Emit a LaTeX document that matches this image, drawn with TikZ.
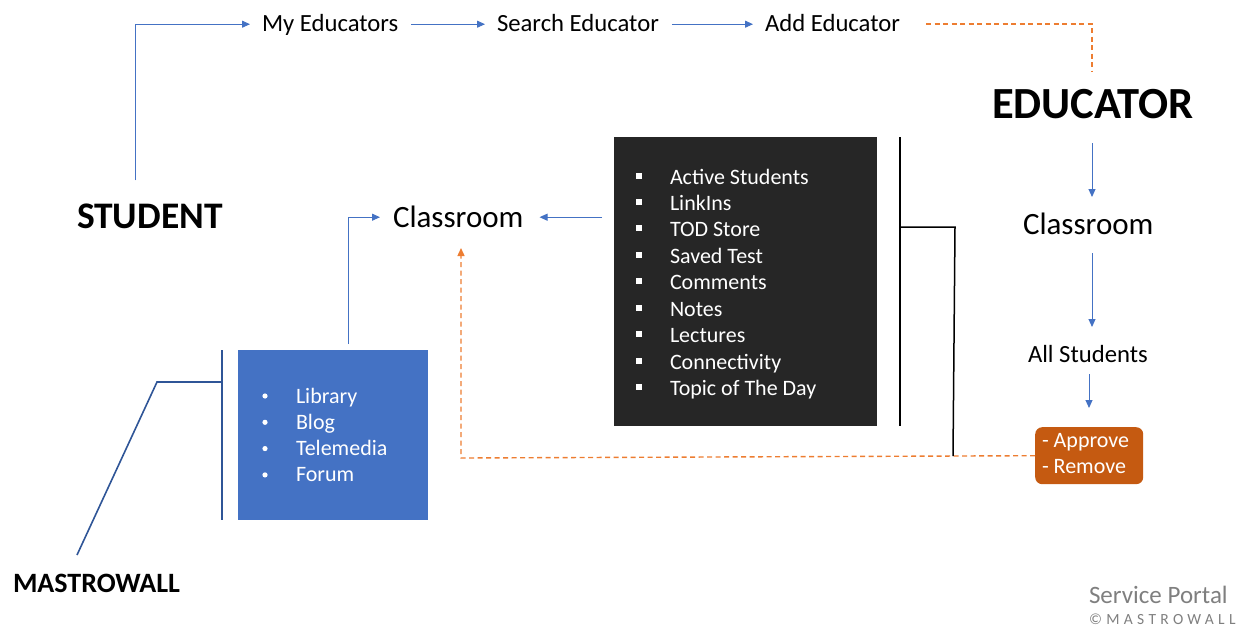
\documentclass[tikz,border=0pt]{standalone}
\usepackage{fontspec}
\setmainfont{Carlito}
\usetikzlibrary{arrows.meta,calc}
\definecolor{ablue}{HTML}{4472C4}
\definecolor{dblue}{HTML}{2F5597}
\definecolor{oline}{HTML}{ED7D31}
\definecolor{obox}{HTML}{C55A11}
\definecolor{bbox}{HTML}{262626}
\definecolor{gtext}{HTML}{7F7F7F}
\begin{document}
\begin{tikzpicture}[x=1pt,y=-1pt,
  txt/.style={inner sep=0pt, outer sep=0pt, anchor=base west, text depth=0pt},
  f24/.style={txt, font=\fontsize{24.7}{30}\selectfont, text height=15.6pt},
  f31/.style={txt, font=\fontsize{31}{37}\selectfont, text height=19.6pt},
  f22/.style={txt, font=\fontsize{22}{26}\selectfont, text height=13.9pt},
  barrow/.style={draw=ablue, line width=1pt, -{Triangle[length=8pt,width=7pt]}},
  odash/.style={draw=oline, line width=1.4pt, dash pattern=on 5pt off 3.5pt},
  bk/.style={draw=black, line width=1.8pt},
  bl/.style={draw=dblue, line width=1.6pt}
]
\useasboundingbox (0,0) rectangle (1239,626);

% top row
\node[f24] (myedu) at (262,32) {My Educators};
\node[f24] (search) at (497,32) {Search Educator};
\node[f24] (addedu) at (765,32) {Add Educator};

% headings
\node[txt, font=\bfseries\fontsize{37.5}{44}\selectfont, text height=23.7pt] (student) at (77,228) {STUDENT};
\node[txt, font=\bfseries\fontsize{44.5}{50}\selectfont, text height=28.1pt] (educator) at (992,118) {EDUCATOR};
\node[txt, font=\bfseries\fontsize{28}{34}\selectfont, text height=17.7pt] (mastro) at (13,592) {MASTROWALL};

% classrooms
\node[f31] (classL) at (393,227) {Classroom};
\node[f31] (classR) at (1023,234) {Classroom};
\node[f24] (allst) at (1028,362) {All Students};

% black box
\node[fill=bbox, minimum width=263pt, minimum height=289pt, inner sep=0pt, anchor=north west] (blk) at (614,137) {};
\foreach \t [count=\i from 0] in {Active Students, LinkIns, TOD Store, Saved Test, Comments, Notes, Lectures, Connectivity, Topic of The Day} {
  \node[f22, text=white] (bi\i) at (670,{184+26.45*\i}) {\t};
  \fill[white] (636,{172.5+26.45*\i}) rectangle ++(6,6);
}

% blue box
\node[fill=ablue, minimum width=190pt, minimum height=170pt, inner sep=0pt, anchor=north west] (blu) at (238,350) {};
\foreach \t [count=\i from 0] in {Library, Blog, Telemedia, Forum} {
  \node[f22, text=white] (li\i) at (296,{403+26.3*\i}) {\t};
  \fill[white] (265,{396+26.3*\i}) circle (2.6);
}

% approve box
\node[fill=obox, rounded corners=7pt, minimum width=108pt, minimum height=57pt, inner sep=0pt, anchor=north west] (appr) at (1035,427) {};
\node[f22, text=white] (ap1) at (1042,447) {- Approve};
\node[f22, text=white] (ap2) at (1042,473) {- Remove};

% footer
\node[txt, font=\fontsize{25}{30}\selectfont, text=gtext] (sp) at (1089,603) {Service Portal};
\node[txt, font={\fontsize{15.5}{18}\selectfont\addfontfeatures{LetterSpace=28}}, text=gtext] (cp) at (1089,624) {©MASTROWALL};

% connectors top
\draw[barrow, shorten <=24pt, shorten >=12pt] ([xshift=58pt]student.north west) |- (myedu.west);
\draw[barrow, shorten <=13pt, shorten >=12pt] (myedu.east) -- (search.west);
\draw[barrow, shorten <=13pt, shorten >=12pt] (search.east) -- (addedu.west);
\draw[odash, shorten <=26pt, shorten >=18pt] (addedu.east) -| ([xshift=100pt]educator.north west);

% educator column
\draw[barrow, shorten <=25pt, shorten >=17.4pt] ([xshift=100pt]educator.south west) -- ([xshift=69pt]classR.north west);
\draw[barrow, shorten <=19pt, shorten >=19.4pt] ([xshift=69pt]classR.south west) -- ([xshift=64pt]allst.north west);
\draw[barrow, shorten <=12pt, shorten >=19pt] ([xshift=61pt]allst.south west) -- ([xshift=54pt]appr.north west);

% to left classroom
\draw[barrow, shorten <=12pt, shorten >=16pt] (blk.west |- classL.east) -- (classL.east);
\draw[barrow, shorten >=13pt] ([xshift=110pt,yshift=6pt]blu.north west) |- (classL.west);

% orange feedback
\coordinate (oc) at (461,458);
\draw[odash, -{Triangle[length=8pt,width=7pt]}, shorten >=21pt] (appr.west) -- (oc) -- (oc |- classL.south);

% black bracket
\coordinate (kt) at (900,137);
\coordinate (kb) at (900,426);
\coordinate (k1) at (900,227);
\coordinate (k2) at (955,227);
\coordinate (k3) at (953,456);
\draw[bk] (kt) -- (kb);
\draw[bk, line width=1.5pt] (k1) -- (k2) -- (k3);

% blue bracket
\coordinate (mt) at (222,350);
\coordinate (mb) at (222,520);
\coordinate (m1) at (222,382);
\coordinate (m2) at (157,382);
\coordinate (m3) at (77,555);
\draw[bl] (mt) -- (mb);
\draw[bl] (m1) -- (m2) -- (m3);
\end{tikzpicture}
\end{document}
